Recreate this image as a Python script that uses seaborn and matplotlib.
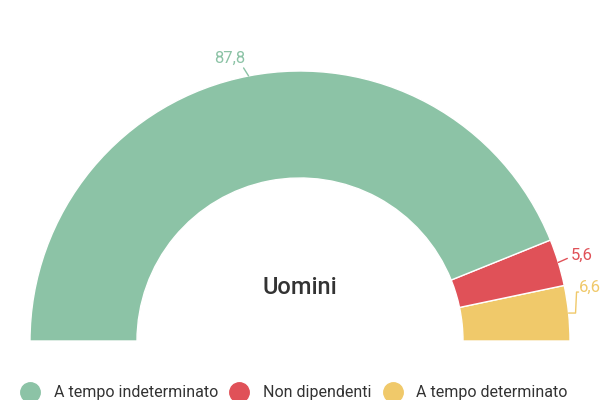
import numpy as np
import seaborn as sns
import matplotlib.pyplot as plt
from matplotlib.lines import Line2D

sns.set_theme(style="white")
plt.rcParams['font.family'] = ['Roboto', 'DejaVu Sans']

categories = ['A tempo indeterminato', 'Non dipendenti', 'A tempo determinato']
values = [87.8, 5.6, 6.6]
value_labels = ['87,8', '5,6', '6,6']
colors = ['#8cc3a6', '#e05158', '#f0c96a']
center_label = 'Uomini'

fig = plt.figure(figsize=(6, 4), dpi=100)
ax = fig.add_axes([0, 0, 1, 1])

cx, cy, R, width = 300, 59, 270, 107

# draw counterclockwise from 0 deg: yellow, red, green, then hidden bottom half
order = [2, 1, 0]
pie_vals = [values[i] for i in order] + [sum(values)]
pie_cols = [colors[i] for i in order] + ['none']
wedges, _ = ax.pie(pie_vals, colors=pie_cols, startangle=0, counterclock=True,
                   center=(cx, cy), radius=R, frame=True,
                   wedgeprops=dict(width=width, edgecolor='white', linewidth=1))
wedges[-1].set_edgecolor('none')
ax.set_xlim(0, 600)
ax.set_ylim(0, 400)
ax.set_aspect('equal')
ax.axis('off')

# leader line offsets (pixels) per category
leaders = {
    0: dict(path=[(-5, 8)], text=(-3, 18), ha='right'),
    1: dict(path=[(9, 4)], text=(12, 7), ha='left'),
    2: dict(path=[(7, 0), (8, 21), (10, 21)], text=(10, 26), ha='left'),
}

for w, i in zip(wedges[:3], order):
    mid = np.deg2rad((w.theta1 + w.theta2) / 2)
    px, py = cx + R * np.cos(mid), cy + R * np.sin(mid)
    xs, ys = [px], [py]
    for dx, dy in leaders[i]['path']:
        xs.append(px + dx)
        ys.append(py + dy)
    ax.plot(xs, ys, color=colors[i], lw=1)
    tx, ty = leaders[i]['text']
    ax.text(px + tx, py + ty, value_labels[i], color=colors[i], fontsize=12,
            ha=leaders[i]['ha'], va='center')

ax.text(cx, cy + 54, center_label, ha='center', va='center', fontsize=17,
        fontweight='medium', color='#333333')

handles = [Line2D([0], [0], marker='o', linestyle='none', markersize=14,
                  markerfacecolor=c, markeredgecolor=c) for c in colors]
fig.legend(handles, categories, loc='center', bbox_to_anchor=(0.49, 0.018),
           ncol=3, frameon=False, fontsize=11.5, handlelength=1.2,
           handletextpad=0.85, columnspacing=0.75, labelcolor='#333333')

fig.savefig('out.png', dpi=100)
